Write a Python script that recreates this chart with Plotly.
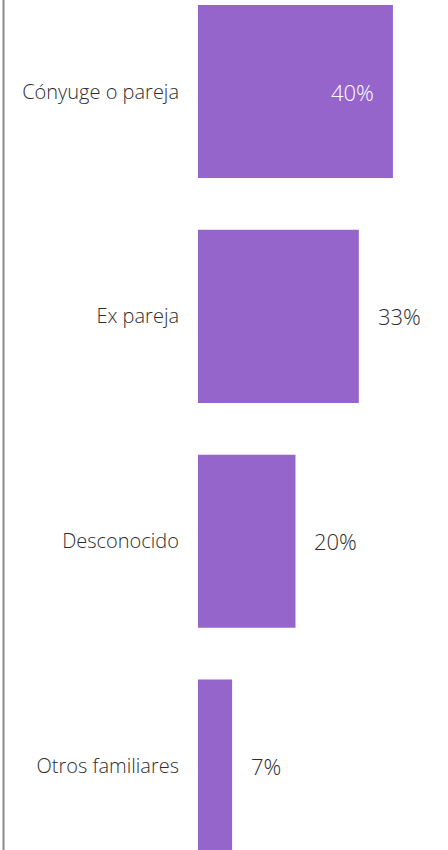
import plotly.graph_objects as go

categories = ["Cónyuge o pareja", "Ex pareja", "Desconocido", "Otros familiares"]
values = [40, 33, 20, 7]
labels = ["40%", "33%", "20%", "7%"]

bar_color = "#9565CC"
text_color = "#2e2e2e"
font_family = "'Open Sans', 'Noto Sans', sans-serif"

fig = go.Figure(go.Bar(
    x=values, y=categories, orientation="h",
    marker=dict(color=bar_color, line=dict(width=0)),
    width=0.77, hoverinfo="skip",
))

annotations = []
for i, (c, v, t) in enumerate(zip(categories, values, labels)):
    inside = i == 0
    annotations.append(dict(
        x=v, y=c, xref="x", yref="y", text=t, showarrow=False,
        xanchor="right" if inside else "left",
        xshift=-17 if inside else 17,
        font=dict(family=font_family, size=22, weight=300,
                  color="white" if inside else text_color),
    ))

fig.update_layout(
    width=448, height=850,
    margin=dict(l=198, r=0, t=0, b=0),
    paper_bgcolor="white", plot_bgcolor="white",
    showlegend=False,
    annotations=annotations,
    shapes=[dict(type="line", xref="paper", yref="paper",
                 x0=-0.778, x1=-0.778, y0=0, y1=1,
                 line=dict(color="#8a8a8a", width=2))],
    xaxis=dict(range=[0, 51.3], visible=False, fixedrange=True),
    yaxis=dict(range=[3.373, -0.407], showgrid=False, zeroline=False,
               showline=False, ticks="", ticklabelstandoff=18,
               tickfont=dict(family=font_family, size=20, weight=300,
                             color=text_color),
               fixedrange=True),
)

fig.write_html("out.html", config={"displayModeBar": False},
               post_script="document.body.style.margin='0';")
